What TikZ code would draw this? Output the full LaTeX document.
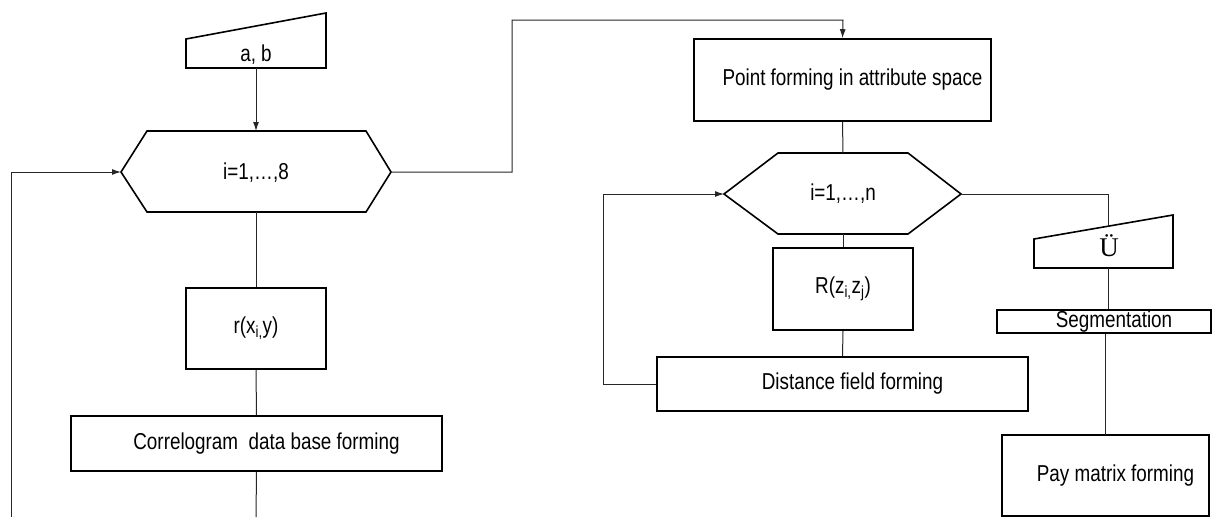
\documentclass[tikz,border=0pt]{standalone}
\usepackage{fontspec}
\setmainfont{Liberation Sans}[FakeStretch=0.82]
\newfontfamily\serifU{Liberation Serif}
\usetikzlibrary{arrows.meta}
\begin{document}
\begin{tikzpicture}[x=1pt,y=-1pt,
  outl/.style={draw=black,line width=1.6pt,line join=miter},
  conn/.style={draw=black!85,line width=1pt},
  arr/.style={conn,-{Latex[length=9pt,width=6pt]}},
  txt/.style={inner sep=0pt,font=\fontsize{23}{26}\selectfont},
  box/.style={outl,rectangle,inner sep=0pt,font=\fontsize{23}{26}\selectfont}]
\useasboundingbox (0,0) rectangle (1212,517);
\fill[white] (0,0) rectangle (1212,517);

% manual input a, b
\draw[outl] (186,39) -- (326,13) -- (326,68) -- (186,68) -- cycle;
\node[txt] (ab) at (256,55) {a, b};
\coordinate (abB) at (256,68);

% hexagon 1
\draw[outl] (121,172) -- (147,131) -- (366,131) -- (391,172) -- (366,212) -- (147,212) -- cycle;
\node[txt] (h1) at (256,173) {i=1,…,8};
\coordinate (h1T) at (256,131);
\coordinate (h1B) at (256,212);
\coordinate (h1L) at (121,172);
\coordinate (h1R) at (391,172);

% boxes on the left
\node[box,minimum width=140pt,minimum height=81pt] (r) at (256,328.5) {r(x\textsubscript{i,}y)};
\node[box,minimum width=371pt,minimum height=55pt] (corr) at (256.5,443.5) {\hspace*{20pt}Correlogram\ \ data base forming};

% right part
\node[box,minimum width=297pt,minimum height=82pt] (point) at (842.5,80) {\hspace*{20pt}Point forming in attribute space};

\draw[outl] (724,194) -- (778,153) -- (908,153) -- (961,194) -- (908,234) -- (778,234) -- cycle;
\node[txt] (h2) at (843,194) {i=1,…,n};
\coordinate (h2T) at (843,153);
\coordinate (h2B) at (843,234);
\coordinate (h2L) at (724,194);
\coordinate (h2R) at (961,194);

\node[box,minimum width=140pt,minimum height=82pt] (R) at (843,289) {R(z\textsubscript{i,}z\textsubscript{j})};
\node[box,minimum width=371pt,minimum height=54pt] (dist) at (842.5,384) {\hspace*{20pt}Distance field forming};

% manual input U
\draw[outl] (1034,239) -- (1173,215) -- (1173,268) -- (1034,268) -- cycle;
\node[inner sep=0pt,font=\serifU\fontsize{27}{30}\selectfont] (U) at (1109,246) {Ü};
\coordinate (UT) at (1108,226);
\coordinate (UB) at (1108,268);

\node[box,minimum width=214pt,minimum height=23pt] (seg) at (1104,321.5) {\hspace*{20pt}Segmentation};
\node[box,minimum width=207pt,minimum height=81pt] (pay) at (1105.5,475.5) {\hspace*{20pt}Pay matrix forming};

% free ends
\coordinate (loopB) at (11,517);
\coordinate (loopC) at (11,172);
\coordinate (corrEnd) at (256,517);
\coordinate (jA) at (512,172);
\coordinate (jB) at (512,20);
\coordinate (jC) at (843,20);
\coordinate (kA) at (603,384);
\coordinate (kB) at (603,194);
\coordinate (mA) at (1108,194);

% connectors
\draw[arr] (abB) -- (h1T);
\draw[arr] (loopB) -- (loopC) -- (h1L);
\draw[conn] (h1B) -- (r.north);
\draw[conn] (r.south) -- (corr.north);
\draw[conn] (corr.south) -- (corrEnd);
\draw[arr] (h1R) -- (jA) -- (jB) -- (jC) -- (point.north);
\draw[conn] (point.south) -- (h2T);
\draw[conn] (h2B) -- (R.north);
\draw[conn] (R.south) -- (dist.north);
\draw[arr] (dist.west) -- (kA) -- (kB) -- (h2L);
\draw[conn] (h2R) -- (mA) -- (UT);
\draw[conn] (UB) -- (UB|-seg.north);
\draw[conn] (seg.south -| 1105,0) -- (1105,435);
\end{tikzpicture}
\end{document}
